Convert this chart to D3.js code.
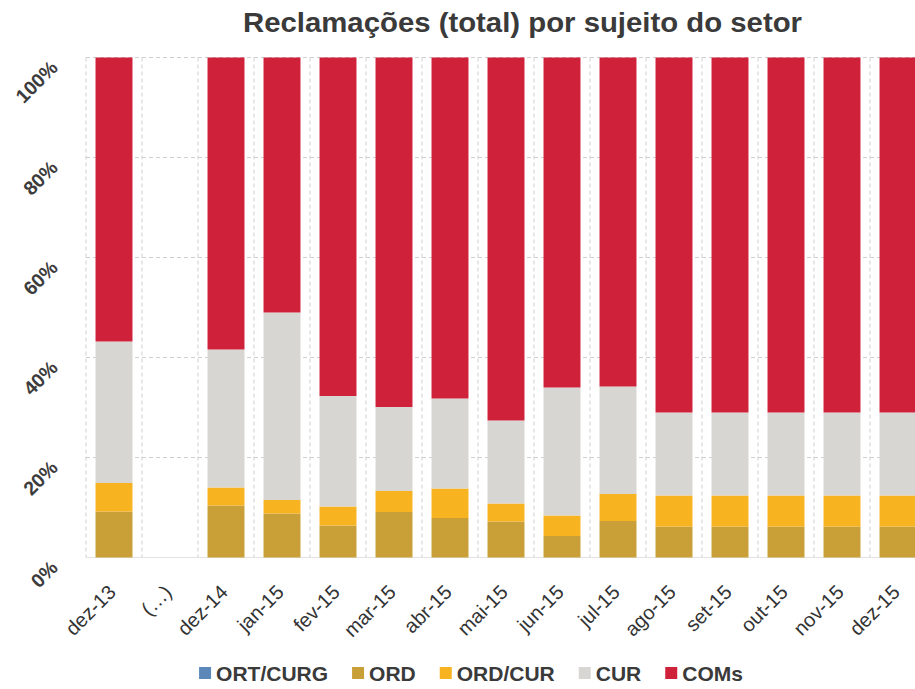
<!DOCTYPE html>
<html>
<head>
<meta charset="utf-8">
<script src="https://cdn.jsdelivr.net/npm/d3@7/dist/d3.min.js"></script>
<style>
html,body{margin:0;padding:0;background:#fff;}
svg{display:block;}
</style>
</head>
<body>
<svg id="chart" width="915" height="689"></svg>
<script>
// ---- data ----
const categories = ["dez-13","(…)","dez-14","jan-15","fev-15","mar-15","abr-15","mai-15","jun-15","jul-15","ago-15","set-15","out-15","nov-15","dez-15"];
const seriesNames = ["ORT/CURG","ORD","ORD/CUR","CUR","COMs"];
const ortCurg = [0, null, 0, 0, 0, 0, 0, 0, 0, 0, 0, 0, 0, 0, 0];
const ord     = [9.2, null, 10.4, 8.8, 6.4, 9.1, 7.9, 7.2, 4.3, 7.3, 6.2, 6.2, 6.2, 6.2, 6.2];
const ordCur  = [5.7, null, 3.6, 2.7, 3.8, 4.2, 5.9, 3.6, 4.1, 5.4, 6.2, 6.2, 6.2, 6.2, 6.2];
const cur     = [28.3, null, 27.6, 37.5, 22.1, 16.8, 18.0, 16.6, 25.6, 21.5, 16.6, 16.6, 16.6, 16.6, 16.6];
const coms    = [56.8, null, 58.4, 51.0, 67.7, 69.9, 68.2, 72.6, 66.0, 65.8, 71.0, 71.0, 71.0, 71.0, 71.0];
const yTicks = [0, 20, 40, 60, 80, 100];
const title = "Reclamações (total) por sujeito do setor";

const colors = ["#5b87b9", "#c9a037", "#f8b320", "#d8d6d2", "#cf2139"];

// ---- layout ----
const svg = d3.select("#chart");
const plot = {left: 86, right: 926, top: 57.5, bottom: 557.5};

const x = d3.scaleBand().domain(categories).range([plot.left, plot.right])
  .paddingInner(0.34).paddingOuter(0.17);
const y = d3.scaleLinear().domain([0, 100]).range([plot.bottom, plot.top]);

const seriesValues = [ortCurg, ord, ordCur, cur, coms];
const rows = categories.map((c, i) => {
  const r = {cat: c, empty: ord[i] === null};
  seriesNames.forEach((s, k) => r[s] = seriesValues[k][i] || 0);
  return r;
});
const stacked = d3.stack().keys(seriesNames)(rows);

// gridlines
const grid = svg.append("g");
grid.selectAll("line.h").data(yTicks.filter(t => t > 0)).join("line")
  .attr("x1", plot.left).attr("x2", 915)
  .attr("y1", d => y(d)).attr("y2", d => y(d))
  .attr("stroke", "#cfcfcf").attr("stroke-width", 1).attr("stroke-dasharray", "4,3");
const step = x.step();
const bounds = categories.map(c => x(c) - x.paddingInner() * step / 2);
grid.selectAll("line.v").data(bounds).join("line")
  .attr("x1", d => d).attr("x2", d => d)
  .attr("y1", plot.top).attr("y2", plot.bottom)
  .attr("stroke", "#cfcfcf").attr("stroke-width", 1).attr("stroke-dasharray", "4,3");
// baseline
svg.append("line").attr("x1", plot.left).attr("x2", 915)
  .attr("y1", y(0)).attr("y2", y(0)).attr("stroke", "#e2e2e2");

// bars
svg.append("g").selectAll("g").data(stacked).join("g")
  .attr("fill", (d, i) => colors[i])
  .selectAll("rect").data(d => d.filter(p => !p.data.empty)).join("rect")
  .attr("x", d => x(d.data.cat))
  .attr("width", x.bandwidth())
  .attr("y", d => y(d[1]))
  .attr("height", d => Math.max(0, y(d[0]) - y(d[1])));

// y axis labels
const yAxis = d3.axisLeft(y).tickValues(yTicks).tickFormat(d => d + "%").tickSize(0);
const yg = svg.append("g").attr("transform", `translate(${plot.left},0)`).call(yAxis);
yg.select(".domain").remove();
yg.selectAll("text")
  .attr("x", 0).attr("dy", 0)
  .attr("transform", "translate(-27,11) rotate(-45)")
  .attr("text-anchor", "end")
  .style("font-family", "'Liberation Sans', Arial, sans-serif")
  .style("font-size", "19.5px").style("font-weight", "bold").attr("fill", "#3c3c3c");

// x axis labels
const xAxis = d3.axisBottom(x).tickSize(0);
const xg = svg.append("g").attr("transform", `translate(0,${plot.bottom})`).call(xAxis);
xg.select(".domain").remove();
xg.selectAll("text")
  .attr("y", 0).attr("dy", 0)
  .attr("transform", "translate(3,36) rotate(-45)")
  .attr("text-anchor", "end")
  .style("font-family", "'Liberation Sans', Arial, sans-serif")
  .style("font-size", "20px").attr("fill", "#333");

// title
svg.append("text").attr("x", 522.5).attr("y", 32).attr("text-anchor", "middle")
  .attr("textLength", 559).attr("lengthAdjust", "spacingAndGlyphs")
  .style("font-family", "'Liberation Sans Narrow', 'Liberation Sans', Arial, sans-serif")
  .style("font-size", "28px").style("font-weight", "bold").attr("fill", "#3a3a3a")
  .text(title);

// legend
const lg = svg.append("g");
const items = lg.selectAll("g").data(seriesNames).join("g");
items.append("rect").attr("width", 12).attr("height", 12).attr("y", -14)
  .attr("fill", (d, i) => colors[i]);
items.append("text").attr("x", 17).attr("y", 0)
  .style("font-family", "'Liberation Sans', Arial, sans-serif")
  .style("font-size", "21px").style("font-weight", "bold").attr("fill", "#3a3a3a")
  .text(d => d);
let cx = 0;
const offs = [];
items.each(function () {
  offs.push(cx);
  cx += 17 + d3.select(this).select("text").node().getComputedTextLength() + 24;
});
const total = cx - 24;
const startX = 471 - total / 2;
items.attr("transform", (d, i) => `translate(${startX + offs[i]},681)`);
</script>
</body>
</html>
